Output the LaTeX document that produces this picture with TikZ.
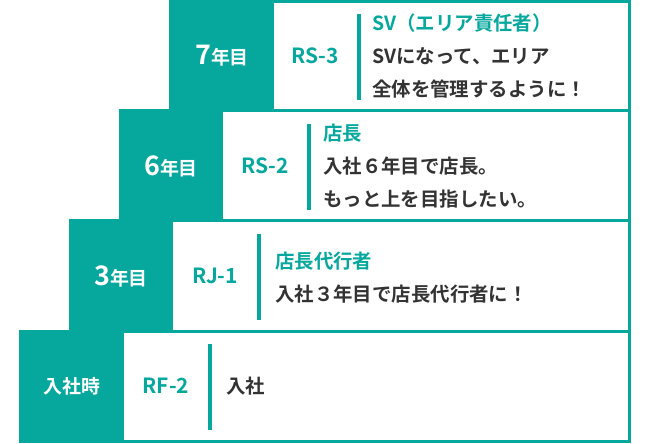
\documentclass[tikz,border=0pt]{standalone}
\usepackage{fontspec}
\setmainfont{Noto Sans CJK JP}[BoldFont={* Bold}]
\usetikzlibrary{positioning}
\definecolor{stepteal}{HTML}{06A89E}
\definecolor{stepink}{HTML}{333333}
\tikzset{
	rowbox/.style={draw=stepteal, line width=3bp},
	yearfill/.style={fill=stepteal},
	yearlabel/.style={text=white, font=\bfseries\fontsize{19}{21}\selectfont},
	codelabel/.style={text=stepteal, font=\bfseries\fontsize{21}{23}\selectfont},
	rolebar/.style={draw=stepteal, line width=3.5bp},
	roletext/.style={anchor=west, align=left, inner sep=0pt, text=stepink,
		font=\bfseries\fontsize{19.5}{33}\selectfont}
}
\newcommand{\roletitle}[1]{\textcolor{stepteal}{#1}}
\newcommand{\bignum}[1]{{\fontsize{27}{28}\selectfont #1}}

\begin{document}
\begin{tikzpicture}[x=1bp, y=-1bp]
			\useasboundingbox (0,0) rectangle (650,444);
			% rows, top to bottom
			\fill[yearfill] (170,1.5) rectangle (274,111);
			\draw[rowbox] (170,1.5) rectangle (629,111);
			\fill[yearfill] (120,111) rectangle (223,221);
			\draw[rowbox] (120,111) rectangle (629,221);
			\fill[yearfill] (70,221) rectangle (173,331);
			\draw[rowbox] (70,221) rectangle (629,331);
			\fill[yearfill] (20,331) rectangle (124,441.5);
			\draw[rowbox] (20,331) rectangle (629,441.5);
			
			\node[yearlabel] (y7) at (222,56) {\bignum{7}年目};
			\node[yearlabel] (y6) at (171,166) {\bignum{6}年目};
			\node[yearlabel] (y3) at (121,276) {\bignum{3}年目};
			\node[yearlabel] (y0) at (72,386) {入社時};
			
			\node[codelabel] (c7) at (315,56) {RS-3};
			\node[codelabel] (c6) at (265,166) {RS-2};
			\node[codelabel] (c3) at (215,276) {RJ-1};
			\node[codelabel] (c0) at (166,386) {RF-2};
			
			\coordinate (b7a) at (359,14); \coordinate (b7b) at (359,100);
			\coordinate (b6a) at (309,124); \coordinate (b6b) at (309,210);
			\coordinate (b3a) at (259,234); \coordinate (b3b) at (259,320);
			\coordinate (b0a) at (210,344); \coordinate (b0b) at (210,430);
			\draw[rolebar] (b7a) -- (b7b);
			\draw[rolebar] (b6a) -- (b6b);
			\draw[rolebar] (b3a) -- (b3b);
			\draw[rolebar] (b0a) -- (b0b);
			
			\node[roletext] (t7) at (372,56) {\roletitle{SV（エリア責任者）}\\SVになって、エリア\\全体を管理するように！};
			\node[roletext] (t6) at (323,166) {\roletitle{店長}\\入社６年目で店長。\\もっと上を目指したい。};
			\node[roletext] (t3) at (275,278) {\roletitle{店長代行者}\\入社３年目で店長代行者に！};
			\node[roletext] (t0) at (226,386) {入社};
		\end{tikzpicture}
\end{document}
